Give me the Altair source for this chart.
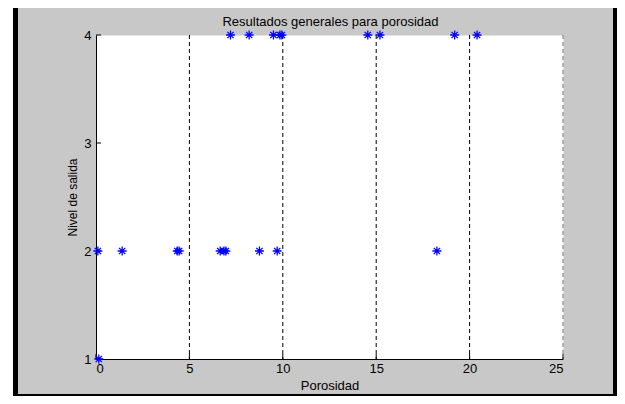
import altair as alt
import pandas as pd

# ---- data ----
x_nivel4 = [7.2, 8.2, 9.5, 9.85, 9.95, 14.55, 15.2, 19.2, 20.4]
x_nivel2 = [0.1, 1.4, 4.35, 4.45, 6.65, 6.85, 6.95, 8.75, 9.7, 18.25]
x_nivel1 = [0.15]
grid_x = [5, 10, 15, 20]
edge_x = [25]
x_ticks = [0, 5, 10, 15, 20, 25]
y_ticks = [1, 2, 3, 4]
title_text = ["Resultados generales para porosidad"]

pts = pd.DataFrame(
    {"x": x_nivel4 + x_nivel2 + x_nivel1,
     "y": [4] * len(x_nivel4) + [2] * len(x_nivel2) + [1] * len(x_nivel1)}
)
grid_df = pd.DataFrame({"x": grid_x})
edge_df = pd.DataFrame({"x": edge_x})
xt_df = pd.DataFrame({"x": x_ticks})
yt_df = pd.DataFrame({"y": y_ticks})
title_df = pd.DataFrame({"t": title_text})

FONT = "Liberation Sans"
W, H = 467, 324
PL, PT = 88, 27
TOTAL_W, TOTAL_H = 609, 388

xs = alt.Scale(domain=[0, 25], nice=False, zero=False)
ys = alt.Scale(domain=[1, 4], nice=False, zero=False)

x_axis = alt.Axis(values=x_ticks, format="d", title="Porosidad", grid=False, ticks=False,
                  domainColor="black", domainWidth=1, labelPadding=3, labelFontSize=13,
                  labelColor="black", labelFont=FONT, titleFont=FONT, titleFontSize=13,
                  titleFontWeight="normal", titleColor="black", titlePadding=4)
y_axis = alt.Axis(values=y_ticks, format="d", title="Nivel de salida", grid=False, ticks=False,
                  domainColor="black", domainWidth=1, labelPadding=5, labelFontSize=13,
                  labelColor="black", labelFont=FONT, titleFont=FONT, titleFontSize=12,
                  titleFontWeight="normal", titleColor="black", titlePadding=4)

X = alt.X("x:Q", scale=xs, axis=x_axis)
Y = alt.Y("y:Q", scale=ys, axis=y_axis)

# frame strips (pixel offsets relative to plot origin)
def strip(x0, x1, y0, y1, color):
    return alt.Chart(title_df).mark_rect(color=color, clip=False).encode(
        x=alt.value(x0), x2=alt.value(x1), y=alt.value(y0), y2=alt.value(y1))

left_white = strip(-PL, -PL + 5, -PT, TOTAL_H - PT, "white")
left_black = strip(-PL + 5, -PL + 10, -PT, TOTAL_H - PT, "black")
right_black = strip(TOTAL_W - 4 - PL, TOTAL_W - PL, -PT, TOTAL_H - PT, "black")
bottom_black = strip(-PL + 5, TOTAL_W - PL, TOTAL_H - 2 - PT, TOTAL_H - PT, "black")

title = alt.Chart(title_df).mark_text(font=FONT, fontSize=13, color="black", align="center",
                                      baseline="alphabetic").encode(
    text="t:N", x=alt.value(W / 2 + 1), y=alt.value(-9))

grid = alt.Chart(grid_df).mark_rule(color="black", strokeDash=[4, 3], strokeWidth=1).encode(x=X)
edge = alt.Chart(edge_df).mark_rule(color="#707070", strokeDash=[4, 3], strokeWidth=1).encode(x=X)

xticks = alt.Chart(xt_df).mark_rule(color="black").encode(
    x=X, y=alt.value(H), y2=alt.value(H - 5))
yticks = alt.Chart(yt_df).mark_rule(color="black").encode(
    y=Y, x=alt.value(0), x2=alt.value(5))

ASTERISK = "M-1,0L1,0M0,-1L0,1M-0.7,-0.7L0.7,0.7M-0.7,0.7L0.7,-0.7"
points = alt.Chart(pts).mark_point(shape=ASTERISK, size=81, filled=False, stroke="#0000ff",
                                   strokeWidth=1.3, opacity=1, clip=False).encode(x=X, y=Y)

chart = alt.layer(left_white, left_black, right_black, bottom_black, title,
                  grid, edge, xticks, yticks, points).properties(
    width=W, height=H,
    autosize=alt.AutoSizeParams(type="none"),
    padding={"left": PL, "top": PT, "right": TOTAL_W - PL - W, "bottom": TOTAL_H - PT - H},
).configure(background="#c8c8c8").configure_view(fill="white", stroke="transparent")

chart.save("out.html", embed_options={"renderer": "svg", "actions": False})
